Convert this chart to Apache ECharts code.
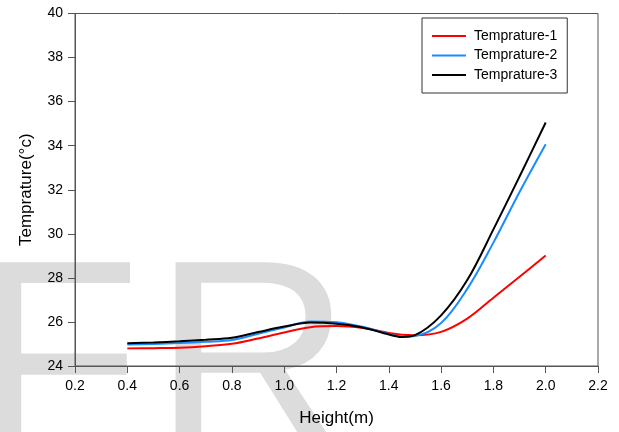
<!DOCTYPE html>
<html>
<head>
<meta charset="utf-8">
<script src="https://cdn.jsdelivr.net/npm/echarts@6/dist/echarts.min.js"></script>
<style>
  html, body { margin: 0; padding: 0; background: #fff; }
  #chart { width: 619px; height: 432px; }
</style>
</head>
<body>
<div id="chart"></div>
<script>
// 温度随高度变化曲线

const HEIGHTS = [0.4, 0.5, 0.6, 0.7, 0.8, 0.9, 1.0, 1.1, 1.2, 1.3, 1.4, 1.45, 1.5, 1.6, 1.7, 1.8, 1.9, 2.0];
const TEMP_1 = [24.8, 24.81, 24.83, 24.9, 25.01, 25.25, 25.52, 25.76, 25.81, 25.72, 25.5, 25.42, 25.4, 25.55, 26.15, 27.1, 28.05, 29.02];
const TEMP_2 = [24.98, 25.0, 25.04, 25.1, 25.18, 25.46, 25.75, 26.02, 25.99, 25.78, 25.45, 25.33, 25.36, 25.95, 27.5, 29.6, 31.9, 34.07];
const TEMP_3 = [25.03, 25.07, 25.12, 25.19, 25.28, 25.54, 25.79, 25.97, 25.92, 25.75, 25.43, 25.32, 25.4, 26.3, 27.9, 30.2, 32.6, 35.05];
const NAMES = ['Temprature-1', 'Temprature-2', 'Temprature-3'];
const COLORS = ['#ff0000', '#1a8cff', '#000000'];

const FONT = 'Liberation Sans, Arial, sans-serif';
const AXIS_COLOR = '#555';

const chart = echarts.init(document.getElementById('chart'), null, { renderer: 'canvas' });

const pairs = (ys) => HEIGHTS.map((h, i) => [h, ys[i]]);

const series = [TEMP_1, TEMP_2, TEMP_3].map((ys, i) => ({
  name: NAMES[i],
  type: 'line',
  data: pairs(ys),
  smooth: 0.35,
  symbol: 'none',
  lineStyle: { color: COLORS[i], width: 2 },
  itemStyle: { color: COLORS[i] },
  z: 5
}));

chart.setOption({
  animation: false,
  textStyle: { fontFamily: FONT },
  // 背景水印
  graphic: [
    { type: 'text', left: -27, top: 238, z: -10, silent: true,
      style: { text: 'F', font: '275px ' + FONT, fill: '#dcdcdc' } },
    { type: 'text', left: 153, top: 238, z: -10, silent: true,
      style: { text: 'R', font: '275px ' + FONT, fill: '#dcdcdc' } }
  ],
  grid: {
    left: 75, right: 21, top: 13.5, bottom: 64,
    show: true, borderColor: AXIS_COLOR, borderWidth: 1, backgroundColor: 'transparent'
  },
  legend: {
    data: NAMES,
    orient: 'vertical',
    left: 422, top: 18,
    padding: [11, 10, 11, 10],
    itemGap: 5.5,
    icon: 'rect',
    itemWidth: 34, itemHeight: 2,
    borderColor: '#333', borderWidth: 1,
    backgroundColor: '#fff',
    textStyle: { fontSize: 14, color: '#000', fontFamily: FONT, padding: [0, 0, 0, 3] }
  },
  xAxis: {
    type: 'value',
    min: 0.2, max: 2.2, interval: 0.2,
    name: 'Height(m)',
    nameLocation: 'middle',
    nameGap: 44,
    nameTextStyle: { fontSize: 17, color: '#000', fontFamily: FONT },
    axisLine: { lineStyle: { color: AXIS_COLOR, width: 1 } },
    axisTick: { length: 7, lineStyle: { color: AXIS_COLOR } },
    axisLabel: { fontSize: 14, color: '#000', margin: 13, formatter: (v) => v.toFixed(1) },
    splitLine: { show: false }
  },
  yAxis: {
    type: 'value',
    min: 24, max: 40, interval: 2,
    name: 'Temprature(°c)',
    nameLocation: 'middle',
    nameGap: 40,
    nameTextStyle: { fontSize: 17, color: '#000', fontFamily: FONT },
    axisLine: { show: true, lineStyle: { color: AXIS_COLOR, width: 1 } },
    axisTick: { show: true, length: 7, lineStyle: { color: AXIS_COLOR } },
    axisLabel: { fontSize: 14, color: '#000', margin: 12 },
    splitLine: { show: false }
  },
  series
});
</script>
</body>
</html>
